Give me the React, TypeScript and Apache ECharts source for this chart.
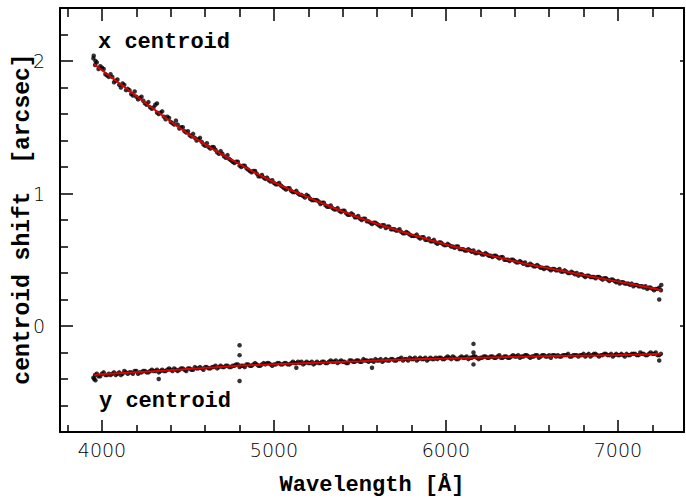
import React, { useEffect, useRef } from "react";
import * as echarts from "echarts";

// Wavelength grids of the measured points (Å): start and spacing
const waveStartA = 3950;
const waveStartB = 3960;
const waveStep = 20;

// x centroid shift (arcsec), samples on grid A
const xCentroidA = [
  2.02, 1.99, 1.96, 1.94, 1.89,
  1.90, 1.84, 1.86, 1.80, 1.82,
  1.79, 1.75, 1.77, 1.71, 1.73,
  1.68, 1.69, 1.64, 1.67, 1.60,
  1.62, 1.56, 1.57, 1.53, 1.55,
  1.49, 1.50, 1.46, 1.44, 1.45,
  1.40, 1.42, 1.37, 1.38, 1.34,
  1.35, 1.31, 1.32, 1.28, 1.29,
  1.25, 1.23, 1.24, 1.20, 1.21,
  1.18, 1.16, 1.17, 1.13, 1.14,
  1.11, 1.10, 1.10, 1.07, 1.08,
  1.05, 1.03, 1.04, 1.01, 1.02,
  0.99, 0.98, 0.99, 0.96, 0.95,
  0.95, 0.92, 0.93, 0.90, 0.91,
  0.88, 0.89, 0.86, 0.87, 0.84,
  0.85, 0.82, 0.83, 0.80, 0.81,
  0.79, 0.77, 0.78, 0.76, 0.76,
  0.74, 0.75, 0.73, 0.72, 0.73,
  0.70, 0.71, 0.69, 0.68, 0.69,
  0.66, 0.67, 0.65, 0.64, 0.65,
  0.62, 0.63, 0.61, 0.62, 0.60,
  0.59, 0.60, 0.58, 0.57, 0.58,
  0.56, 0.55, 0.56, 0.54, 0.55,
  0.53, 0.52, 0.53, 0.51, 0.52,
  0.50, 0.49, 0.50, 0.48, 0.49,
  0.47, 0.46, 0.47, 0.45, 0.46,
  0.44, 0.43, 0.44, 0.42, 0.43,
  0.42, 0.41, 0.42, 0.40, 0.41,
  0.39, 0.38, 0.39, 0.37, 0.38,
  0.37, 0.36, 0.37, 0.35, 0.36,
  0.34, 0.35, 0.33, 0.32, 0.33,
  0.32, 0.31, 0.30, 0.31, 0.30,
  0.29, 0.28, 0.29, 0.27, 0.28,
  0.27,
];

// x centroid shift (arcsec), samples on grid B
const xCentroidB = [
  1.97, 1.94, 1.95, 1.90, 1.88,
  1.88, 1.85, 1.82, 1.83, 1.78,
  1.78, 1.74, 1.73, 1.72, 1.70,
  1.67, 1.65, 1.65, 1.61, 1.61,
  1.58, 1.58, 1.54, 1.52, 1.52,
  1.50, 1.47, 1.47, 1.43, 1.42,
  1.41, 1.39, 1.36, 1.35, 1.35,
  1.33, 1.30, 1.30, 1.27, 1.26,
  1.24, 1.24, 1.21, 1.21, 1.19,
  1.17, 1.17, 1.15, 1.13, 1.12,
  1.12, 1.09, 1.08, 1.07, 1.06,
  1.04, 1.04, 1.02, 1.01, 1.00,
  0.99, 0.97, 0.98, 0.95, 0.95,
  0.94, 0.93, 0.91, 0.90, 0.89,
  0.88, 0.87, 0.87, 0.85, 0.84,
  0.84, 0.82, 0.81, 0.81, 0.79,
  0.78, 0.78, 0.77, 0.75, 0.76,
  0.75, 0.73, 0.73, 0.72, 0.71,
  0.70, 0.70, 0.68, 0.68, 0.67,
  0.67, 0.65, 0.66, 0.64, 0.63,
  0.63, 0.62, 0.61, 0.61, 0.60,
  0.60, 0.58, 0.58, 0.57, 0.57,
  0.57, 0.55, 0.55, 0.54, 0.54,
  0.53, 0.53, 0.52, 0.52, 0.50,
  0.50, 0.50, 0.49, 0.48, 0.48,
  0.48, 0.46, 0.46, 0.45, 0.45,
  0.44, 0.44, 0.43, 0.43, 0.42,
  0.43, 0.41, 0.41, 0.40, 0.40,
  0.40, 0.39, 0.38, 0.38, 0.37,
  0.37, 0.37, 0.36, 0.36, 0.35,
  0.35, 0.34, 0.34, 0.33, 0.32,
  0.32, 0.32, 0.31, 0.30, 0.30,
  0.30, 0.29, 0.28, 0.28, 0.29,
];

// y centroid shift (arcsec), samples on grid A
const yCentroidA = [
  -0.39, -0.36, -0.38, -0.35, -0.37,
  -0.37, -0.35, -0.36, -0.37, -0.34,
  -0.36, -0.35, -0.34, -0.36, -0.35,
  -0.34, -0.35, -0.33, -0.34, -0.35,
  -0.33, -0.34, -0.32, -0.34, -0.33,
  -0.33, -0.32, -0.34, -0.32, -0.33,
  -0.32, -0.31, -0.33, -0.31, -0.32,
  -0.31, -0.32, -0.30, -0.31, -0.30,
  -0.31, -0.30, -0.29, -0.30, -0.31,
  -0.29, -0.30, -0.28, -0.30, -0.29,
  -0.29, -0.28, -0.30, -0.29, -0.28,
  -0.29, -0.28, -0.29, -0.27, -0.28,
  -0.28, -0.29, -0.27, -0.28, -0.29,
  -0.27, -0.28, -0.27, -0.28, -0.26,
  -0.27, -0.28, -0.26, -0.27, -0.28,
  -0.26, -0.27, -0.26, -0.27, -0.26,
  -0.27, -0.26, -0.25, -0.26, -0.27,
  -0.25, -0.26, -0.25, -0.26, -0.25,
  -0.26, -0.25, -0.24, -0.25, -0.26,
  -0.24, -0.25, -0.26, -0.24, -0.25,
  -0.25, -0.24, -0.25, -0.23, -0.25,
  -0.24, -0.25, -0.23, -0.24, -0.25,
  -0.24, -0.23, -0.25, -0.24, -0.23,
  -0.24, -0.23, -0.24, -0.22, -0.24,
  -0.23, -0.24, -0.22, -0.23, -0.24,
  -0.23, -0.22, -0.24, -0.23, -0.22,
  -0.23, -0.22, -0.23, -0.24, -0.22,
  -0.22, -0.23, -0.22, -0.21, -0.23,
  -0.22, -0.23, -0.22, -0.23, -0.21,
  -0.22, -0.21, -0.23, -0.22, -0.21,
  -0.22, -0.23, -0.21, -0.22, -0.22,
  -0.21, -0.22, -0.21, -0.22, -0.20,
  -0.21, -0.22, -0.20, -0.21, -0.22,
  -0.21,
];

// y centroid shift (arcsec), samples on grid B
const yCentroidB = [
  -0.37, -0.38, -0.36, -0.37, -0.36,
  -0.36, -0.37, -0.35, -0.36, -0.35,
  -0.35, -0.36, -0.34, -0.35, -0.34,
  -0.35, -0.34, -0.34, -0.33, -0.34,
  -0.34, -0.33, -0.33, -0.32, -0.34,
  -0.32, -0.33, -0.32, -0.33, -0.31,
  -0.32, -0.32, -0.31, -0.32, -0.31,
  -0.30, -0.31, -0.31, -0.30, -0.31,
  -0.30, -0.29, -0.31, -0.30, -0.29,
  -0.30, -0.29, -0.29, -0.30, -0.28,
  -0.28, -0.29, -0.29, -0.28, -0.29,
  -0.28, -0.29, -0.28, -0.28, -0.27,
  -0.27, -0.28, -0.28, -0.27, -0.28,
  -0.28, -0.27, -0.28, -0.27, -0.27,
  -0.26, -0.27, -0.27, -0.28, -0.26,
  -0.27, -0.26, -0.27, -0.25, -0.26,
  -0.26, -0.27, -0.26, -0.25, -0.26,
  -0.26, -0.25, -0.26, -0.25, -0.24,
  -0.25, -0.26, -0.25, -0.24, -0.25,
  -0.25, -0.24, -0.25, -0.25, -0.24,
  -0.24, -0.25, -0.24, -0.24, -0.23,
  -0.25, -0.24, -0.24, -0.23, -0.24,
  -0.23, -0.24, -0.24, -0.23, -0.24,
  -0.23, -0.24, -0.23, -0.24, -0.23,
  -0.24, -0.23, -0.23, -0.22, -0.23,
  -0.22, -0.23, -0.23, -0.22, -0.24,
  -0.22, -0.23, -0.22, -0.22, -0.23,
  -0.23, -0.22, -0.22, -0.23, -0.22,
  -0.22, -0.22, -0.21, -0.22, -0.23,
  -0.21, -0.22, -0.22, -0.21, -0.22,
  -0.21, -0.22, -0.22, -0.21, -0.23,
  -0.22, -0.21, -0.21, -0.22, -0.21,
  -0.22, -0.21, -0.21, -0.20, -0.22,
];

// Individual stray points [wavelength, shift]
const xStray = [[3952, 2.04], [3962, 2.0], [4320, 1.68], [7240, 0.2], [7252, 0.31]];
const yStray = [
  [3955, -0.4], [3962, -0.41], [4330, -0.4], [4800, -0.145], [4800, -0.22],
  [4800, -0.415], [5130, -0.315], [5570, -0.315], [6160, -0.135], [6160, -0.2],
  [6160, -0.29], [7240, -0.26],
];

// Fitted curves (red)
const fitWave = [3955, 4000, 4250, 4500, 4750, 5000, 5250, 5500, 5750, 6000, 6250, 6500, 6750, 7000, 7250];
const xFit = [1.975, 1.93, 1.687, 1.452, 1.257, 1.085, 0.943, 0.815, 0.71, 0.615, 0.535, 0.46, 0.397, 0.335, 0.272];
const yFit = [-0.37, -0.365, -0.345, -0.325, -0.303, -0.289, -0.277, -0.266, -0.253, -0.245, -0.237, -0.23, -0.224, -0.219, -0.21];

// Axis ticks
const xMajor = [4000, 5000, 6000, 7000];
const xMinor = [3800, 4200, 4400, 4600, 4800, 5200, 5400, 5600, 5800, 6200, 6400, 6600, 6800, 7200];
const yMajor = [0, 1, 2];
const yMinor = [-0.6, -0.4, -0.2, 0.2, 0.4, 0.6, 0.8, 1.2, 1.4, 1.6, 1.8, 2.2];

// Titles
const xTitle = "Wavelength [Å]";
const yTitle = "centroid shift  [arcsec]";

const X_MIN = 3756;
const X_MAX = 7384;
const Y_MIN = -0.8;
const Y_MAX = 2.4;

const MONO = "'Liberation Mono', 'Courier New', monospace";
const SANS = "'DejaVu Sans', sans-serif";

export default function App() {
  const ref = useRef<HTMLDivElement>(null);

  useEffect(() => {
    if (!ref.current) return;
    const chart = echarts.init(ref.current, undefined, { renderer: "svg" });

    const pts = (start: number, arr: number[]) => arr.map((v, i) => [start + i * waveStep, v]);
    const xFitPts = fitWave.map((w, i) => [w, xFit[i]]);
    const yFitPts = fitWave.map((w, i) => [w, yFit[i]]);

    const lineStyle = { color: "#000", width: 2 };
    const tickLine = { color: "#000", width: 1.5 };
    const baseX = {
      type: "value" as const,
      min: X_MIN,
      max: X_MAX,
      splitLine: { show: false },
    };
    const baseY = {
      type: "value" as const,
      min: Y_MIN,
      max: Y_MAX,
      splitLine: { show: false },
    };
    const labelStyle = {
      color: "#000",
      fontFamily: SANS,
      fontSize: 19,
      fontWeight: 200,
      formatter: (v: number) => String(v),
    };
    const dot = (data: number[][]) => ({
      type: "scatter" as const,
      data,
      symbolSize: 4.5,
      itemStyle: { color: "#000" },
    });

    chart.setOption({
      animation: false,
      backgroundColor: "#fff",
      grid: { left: 60, right: 2, top: 8, bottom: 68, containLabel: false, outerBoundsMode: "none" },
      xAxis: [
        {
          ...baseX,
          position: "bottom",
          axisLine: { show: true, onZero: false, lineStyle },
          axisTick: { show: true, inside: true, length: 12, customValues: xMajor, lineStyle: tickLine },
          axisLabel: { show: true, customValues: xMajor, margin: 8, ...labelStyle },
        },
        {
          ...baseX,
          position: "bottom",
          axisLine: { show: false, onZero: false },
          axisTick: { show: true, inside: true, length: 7, customValues: xMinor, lineStyle: tickLine },
          axisLabel: { show: false },
        },
        {
          ...baseX,
          position: "top",
          axisLine: { show: true, onZero: false, lineStyle },
          axisTick: { show: true, inside: true, length: 13, customValues: xMajor, lineStyle: tickLine },
          axisLabel: { show: false },
        },
        {
          ...baseX,
          position: "top",
          axisLine: { show: false, onZero: false },
          axisTick: { show: true, inside: true, length: 9, customValues: xMinor, lineStyle: tickLine },
          axisLabel: { show: false },
        },
      ],
      yAxis: [
        {
          ...baseY,
          position: "left",
          axisLine: { show: true, onZero: false, lineStyle },
          axisTick: { show: true, inside: true, length: 13, customValues: yMajor, lineStyle: tickLine },
          axisLabel: { show: true, customValues: yMajor, margin: 15, ...labelStyle },
        },
        {
          ...baseY,
          position: "left",
          axisLine: { show: false, onZero: false },
          axisTick: { show: true, inside: true, length: 8, customValues: yMinor, lineStyle: tickLine },
          axisLabel: { show: false },
        },
        {
          ...baseY,
          position: "right",
          axisLine: { show: true, onZero: false, lineStyle },
          axisTick: { show: true, inside: true, length: 4, customValues: yMajor, lineStyle: tickLine },
          axisLabel: { show: false },
        },
      ],
      graphic: [
        {
          type: "text",
          x: 372,
          y: 485,
          style: {
            text: xTitle,
            fontFamily: MONO,
            fontWeight: "bold",
            fontSize: 22,
            fill: "#000",
            align: "center",
            verticalAlign: "middle",
          },
        },
        {
          type: "text",
          x: 23,
          y: 219,
          rotation: Math.PI / 2,
          style: {
            text: yTitle,
            fontFamily: MONO,
            fontWeight: "bold",
            fontSize: 23,
            fill: "#000",
            align: "center",
            verticalAlign: "middle",
          },
        },
        {
          type: "text",
          left: 98,
          top: 31,
          style: { text: "x centroid", fontFamily: MONO, fontWeight: "bold", fontSize: 22, fill: "#000" },
        },
        {
          type: "text",
          left: 99,
          top: 390,
          style: { text: "y centroid", fontFamily: MONO, fontWeight: "bold", fontSize: 22, fill: "#000" },
        },
      ],
      series: [
        dot(pts(waveStartA, xCentroidA)),
        dot(pts(waveStartB, xCentroidB)),
        dot(xStray),
        dot(pts(waveStartA, yCentroidA)),
        dot(pts(waveStartB, yCentroidB)),
        dot(yStray),
        {
          type: "line",
          data: xFitPts,
          smooth: 0.4,
          showSymbol: false,
          lineStyle: { color: "#e00000", width: 2 },
        },
        {
          type: "line",
          data: yFitPts,
          smooth: 0.4,
          showSymbol: false,
          lineStyle: { color: "#e00000", width: 2 },
        },
      ],
    });

    return () => chart.dispose();
  }, []);

  return (
    <div
      ref={ref}
      style={{ position: "absolute", left: 0, top: 0, width: 686, height: 500 }}
    />
  );
}
